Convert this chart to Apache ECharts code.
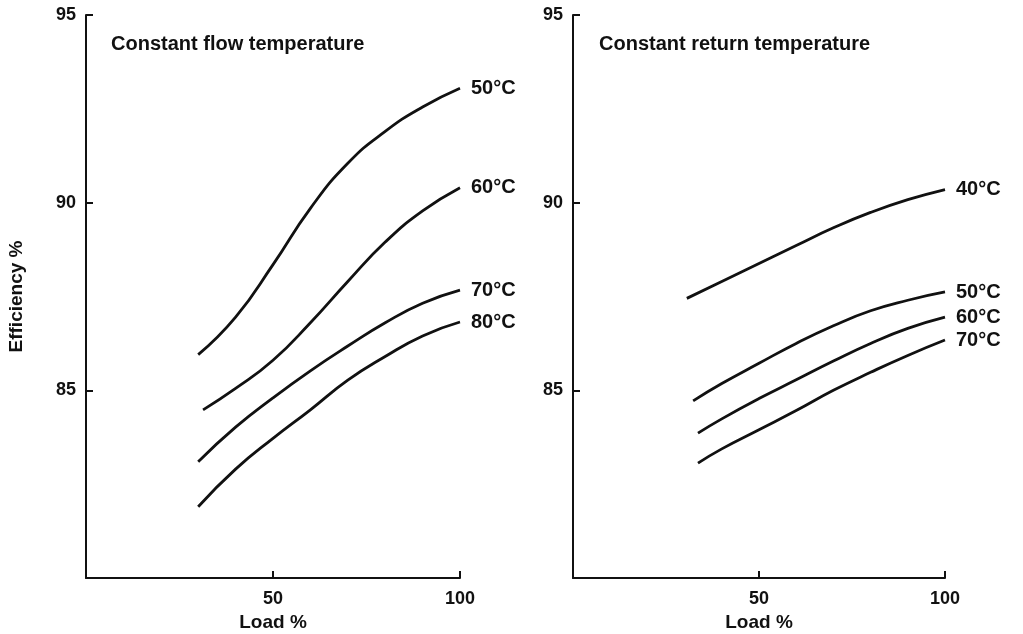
<!DOCTYPE html>
<html>
<head>
<meta charset="utf-8">
<script src="https://cdn.jsdelivr.net/npm/echarts@6/dist/echarts.min.js"></script>
<style>
  html, body {margin: 0; padding: 0; background: #fff;}
  #chart {width: 1023px; height: 634px;}
</style>
</head>
<body>
<div id="chart"></div>
<script>
// load % vs efficiency %
var flow50 = [[30, 85.95], [40, 86.95], [50, 88.35], [60, 89.85], [70, 91.05], [80, 91.9], [90, 92.55], [100, 93.05]];
var flow60 = [[31.3, 84.48], [40, 85.05], [50, 85.8], [60, 86.8], [70, 87.9], [80, 88.95], [90, 89.78], [100, 90.4]];
var flow70 = [[30, 83.1], [40, 84.02], [50, 84.8], [60, 85.52], [70, 86.18], [80, 86.8], [90, 87.32], [100, 87.67]];
var flow80 = [[30, 81.9], [40, 82.9], [50, 83.72], [60, 84.48], [70, 85.27], [80, 85.9], [90, 86.45], [100, 86.82]];

var ret40 = [[30.6, 87.45], [40, 87.9], [50, 88.38], [60, 88.86], [70, 89.33], [80, 89.74], [90, 90.08], [100, 90.35]];
var ret50 = [[32.3, 84.72], [40, 85.18], [50, 85.72], [60, 86.25], [70, 86.72], [80, 87.12], [90, 87.4], [100, 87.62]];
var ret60 = [[33.6, 83.86], [40, 84.24], [50, 84.78], [60, 85.28], [70, 85.78], [80, 86.25], [90, 86.65], [100, 86.95]];
var ret70 = [[33.6, 83.06], [40, 83.44], [50, 83.95], [60, 84.46], [70, 85.0], [80, 85.48], [90, 85.93], [100, 86.34]];

var flowNames = ['50°C', '60°C', '70°C', '80°C'];
var retNames = ['40°C', '50°C', '60°C', '70°C'];
var titles = ['Constant flow temperature', 'Constant return temperature'];

var font = 'Liberation Sans, Arial, sans-serif';
var ink = '#111';

function xAx(i) {
    return {
        gridIndex: i, type: 'value', min: 0, max: 100, interval: 50,
        name: 'Load %', nameLocation: 'middle', nameGap: 33,
        nameTextStyle: {color: ink, fontFamily: font, fontWeight: 'bold', fontSize: 19},
        axisLine: {lineStyle: {color: ink, width: 2}},
        axisTick: {inside: true, length: 7, lineStyle: {color: ink, width: 2}},
        axisLabel: {showMinLabel: false, color: ink, fontFamily: font, fontWeight: 'bold', fontSize: 18, margin: 12},
        splitLine: {show: false}
    };
}
function yAx(i) {
    return {
        gridIndex: i, type: 'value', min: 80, max: 95, interval: 5,
        name: i === 0 ? 'Efficiency %' : '', nameLocation: 'middle', nameGap: 60,
        nameTextStyle: {color: ink, fontFamily: font, fontWeight: 'bold', fontSize: 19},
        axisLine: {show: true, lineStyle: {color: ink, width: 2}},
        axisTick: {show: true, inside: true, length: 7, lineStyle: {color: ink, width: 2}},
        axisLabel: {showMinLabel: false, color: ink, fontFamily: font, fontWeight: 'bold', fontSize: 18, margin: 10},
        splitLine: {show: false}
    };
}
function line(name, data, i) {
    return {
        type: 'line', name: name, data: data, xAxisIndex: i, yAxisIndex: i,
        smooth: 0.5, showSymbol: false, silent: true,
        lineStyle: {color: ink, width: 2.8},
        endLabel: {
            show: true, formatter: '{a}', distance: 11,
            color: ink, fontFamily: font, fontWeight: 'bold', fontSize: 20
        }
    };
}

var chart = echarts.init(document.getElementById('chart'), null, {renderer: 'canvas'});
chart.setOption({
    backgroundColor: '#fff',
    animation: false,
    title: [
        {text: titles[0], left: 106, top: 29, textStyle: {color: ink, fontFamily: font, fontWeight: 'bold', fontSize: 20}},
        {text: titles[1], left: 594, top: 29, textStyle: {color: ink, fontFamily: font, fontWeight: 'bold', fontSize: 20}}
    ],
    grid: [
        {left: 86, right: 563, top: 15, bottom: 56, outerBoundsMode: 'none'},
        {left: 573, right: 78, top: 15, bottom: 56, outerBoundsMode: 'none'}
    ],
    xAxis: [xAx(0), xAx(1)],
    yAxis: [yAx(0), yAx(1)],
    series: [
        line(flowNames[0], flow50, 0),
        line(flowNames[1], flow60, 0),
        line(flowNames[2], flow70, 0),
        line(flowNames[3], flow80, 0),
        line(retNames[0], ret40, 1),
        line(retNames[1], ret50, 1),
        line(retNames[2], ret60, 1),
        line(retNames[3], ret70, 1)
    ]
});
</script>
</body>
</html>
